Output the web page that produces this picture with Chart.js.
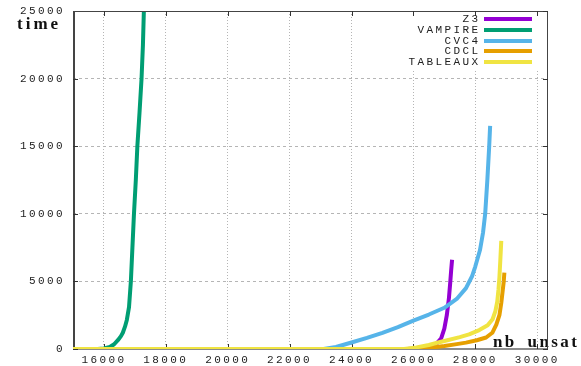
<!DOCTYPE html>
<html>
<head>
<meta charset="utf-8">
<script src="https://cdn.jsdelivr.net/npm/chart.js@4/dist/chart.umd.min.js"></script>
<style>
  html, body { margin: 0; padding: 0; background: #fff; }
  #wrap { width: 581px; height: 366px; }
</style>
</head>
<body>
<div id="wrap"><canvas id="c" width="581" height="366"></canvas></div>
<script>
// Cumulative solving time per solver, against number of instances solved
const seriesNames = ['Z3', 'VAMPIRE', 'CVC4', 'CDCL', 'TABLEAUX'];
const seriesColors = ['#9400d3', '#009e73', '#56b4e9', '#e69f00', '#f0e442'];

const z3X = [15000, 25800, 26200, 26500, 26750, 26900, 27000, 27080, 27150, 27190, 27220, 27250];
const z3Y = [0, 0, 60, 150, 400, 800, 1500, 2500, 3800, 4900, 5800, 6600];

const vampireX = [15000, 15800, 16000, 16190, 16330, 16450, 16550, 16610, 16680, 16740, 16810, 16870, 16920, 16970, 17030, 17080, 17150, 17215, 17260, 17290, 17320];
const vampireY = [0, 0, 40, 150, 350, 650, 950, 1200, 1650, 2150, 3100, 5000, 7500, 10000, 12500, 15000, 17500, 20000, 22500, 25000, 27000];

const cvc4X = [15000, 23100, 23500, 24000, 24500, 25000, 25500, 26000, 26500, 27000, 27400, 27700, 27900, 28000, 28150, 28250, 28320, 28390, 28450, 28480];
const cvc4Y = [0, 0, 150, 480, 820, 1200, 1620, 2100, 2550, 3050, 3700, 4500, 5400, 6100, 7300, 8600, 10000, 12500, 15000, 16500];

const cdclX = [15000, 26000, 26500, 27000, 27400, 27700, 28050, 28350, 28550, 28680, 28780, 28840, 28890, 28920, 28940];
const cdclY = [0, 0, 80, 220, 360, 470, 650, 850, 1200, 1800, 2500, 3400, 4400, 5000, 5650];

const tableauxX = [15000, 25700, 26100, 26500, 26800, 27100, 27500, 27800, 28130, 28400, 28560, 28650, 28710, 28750, 28780, 28810, 28840];
const tableauxY = [0, 0, 120, 300, 480, 650, 880, 1080, 1400, 1750, 2200, 2800, 3500, 4400, 5300, 6600, 8000];

const xTickValues = [16000, 18000, 20000, 22000, 24000, 26000, 28000, 30000];
const yTickValues = [0, 5000, 10000, 15000, 20000, 25000];

const xTitle = 'nb_unsat';
const yTitle = 'time';

const seriesX = [z3X, vampireX, cvc4X, cdclX, tableauxX];
const seriesY = [z3Y, vampireY, cvc4Y, cdclY, tableauxY];

const LS = 2.4;               // letter spacing for the wide tick/key lettering
const monoFont = { family: "'Liberation Mono', 'DejaVu Sans Mono', monospace", size: 11 };
const textColor = '#222';
const serifFont = "bold 17px 'Liberation Serif', 'DejaVu Serif', serif";

const datasets = seriesNames.map((name, i) => ({
  label: name,
  data: seriesX[i].map((x, k) => ({ x: x, y: seriesY[i][k] })),
  borderColor: seriesColors[i],
  backgroundColor: seriesColors[i],
  borderWidth: 4,
  pointRadius: 0,
  tension: 0,
  fill: false,
  borderJoinStyle: 'round',
  order: seriesNames.length - i   // later series drawn on top
}));

function drawTicks(ctx, chart, sides) {
  const a = chart.chartArea;
  const xs = chart.scales.x, ys = chart.scales.y;
  ctx.fillStyle = '#333';
  xTickValues.forEach(v => {
    const px = Math.round(xs.getPixelForValue(v));
    if (sides.bottom) ctx.fillRect(px, a.bottom - 5, 1, 5);
    if (sides.top) ctx.fillRect(px, a.top, 1, 5);
  });
  yTickValues.forEach(v => {
    const py = Math.round(ys.getPixelForValue(v));
    if (sides.left) ctx.fillRect(a.left, py, 5, 1);
    if (sides.right) ctx.fillRect(a.right - 5, py, 5, 1);
  });
}

const framePlugin = {
  id: 'frame',
  beforeDraw(chart) {
    const ctx = chart.ctx;
    ctx.fillStyle = '#fff';
    ctx.fillRect(0, 0, chart.width, chart.height);
    if ('letterSpacing' in ctx) ctx.letterSpacing = LS + 'px';
  },
  beforeDatasetsDraw(chart) {
    const ctx = chart.ctx;
    const a = chart.chartArea;
    ctx.save();
    // axis titles
    ctx.fillStyle = '#111';
    ctx.font = serifFont;
    ctx.textAlign = 'left';
    ctx.textBaseline = 'alphabetic';
    if ('letterSpacing' in ctx) ctx.letterSpacing = '3px';
    ctx.fillText(yTitle, 17, 29);
    if ('letterSpacing' in ctx) ctx.letterSpacing = '2.4px';
    ctx.fillText(xTitle, 493, 347);
    // left axis darker, bottom axis grey and heavier
    ctx.fillStyle = '#444';
    ctx.fillRect(a.left, a.top, 2, a.bottom - a.top + 1);
    ctx.fillStyle = '#8c8c8c';
    ctx.fillRect(a.left + 2, a.bottom - 1, a.right - a.left - 2, 2);
    drawTicks(ctx, chart, { bottom: true, left: true, right: false, top: false });
    ctx.restore();
  },
  afterDatasetsDraw(chart) {
    const ctx = chart.ctx;
    const a = chart.chartArea;
    ctx.save();
    // key box (opaque)
    ctx.fillStyle = '#fff';
    ctx.fillRect(398, a.top + 2, 146, 56);
    // top and right frame with their ticks
    ctx.fillStyle = '#444';
    ctx.fillRect(a.left, a.top, a.right - a.left, 1);
    ctx.fillRect(a.right - 1, a.top, 1, a.bottom - a.top);
    drawTicks(ctx, chart, { bottom: false, left: false, right: true, top: true });
    // key entries
    ctx.font = "11px 'Liberation Mono', 'DejaVu Sans Mono', monospace";
    if ('letterSpacing' in ctx) ctx.letterSpacing = LS + 'px';
    ctx.textAlign = 'right';
    ctx.textBaseline = 'middle';
    chart.data.datasets.forEach((ds, i) => {
      const y = 19 + i * 10.8;
      ctx.fillStyle = textColor;
      ctx.fillText(ds.label, 478 + LS, y);
      ctx.fillStyle = ds.borderColor;
      ctx.fillRect(484, Math.round(y) - 2, 48, 4);
    });
    ctx.restore();
  }
};

new Chart(document.getElementById('c'), {
  type: 'line',
  data: { datasets: datasets },
  options: {
    responsive: false,
    devicePixelRatio: 1,
    animation: false,
    events: [],
    layout: { padding: { left: 0, right: 33, top: 11, bottom: 0 } },
    plugins: {
      legend: { display: false },
      tooltip: { enabled: false },
      title: { display: false }
    },
    scales: {
      x: {
        type: 'linear',
        min: 15000,
        max: 30350,
        afterBuildTicks: s => { s.ticks = xTickValues.map(v => ({ value: v })); },
        afterFit: s => { s.height = 17; s.paddingLeft = 0; s.paddingRight = 0; },
        ticks: {
          callback: v => String(v),
          font: monoFont,
          color: textColor,
          padding: 4,
          autoSkip: false,
          maxRotation: 0
        },
        grid: { color: '#b5b5b5', lineWidth: 1, drawTicks: false },
        border: { display: false, dash: [1, 2] }
      },
      y: {
        type: 'linear',
        min: 0,
        max: 25000,
        afterBuildTicks: s => { s.ticks = yTickValues.map(v => ({ value: v })); },
        afterFit: s => { s.width = 73; s.paddingTop = 0; s.paddingBottom = 0; },
        ticks: {
          callback: v => String(v),
          font: monoFont,
          color: textColor,
          padding: 8
        },
        grid: { color: '#b5b5b5', lineWidth: 1, drawTicks: false },
        border: { display: false, dash: [3, 3] }
      }
    }
  },
  plugins: [framePlugin]
});
</script>
</body>
</html>
